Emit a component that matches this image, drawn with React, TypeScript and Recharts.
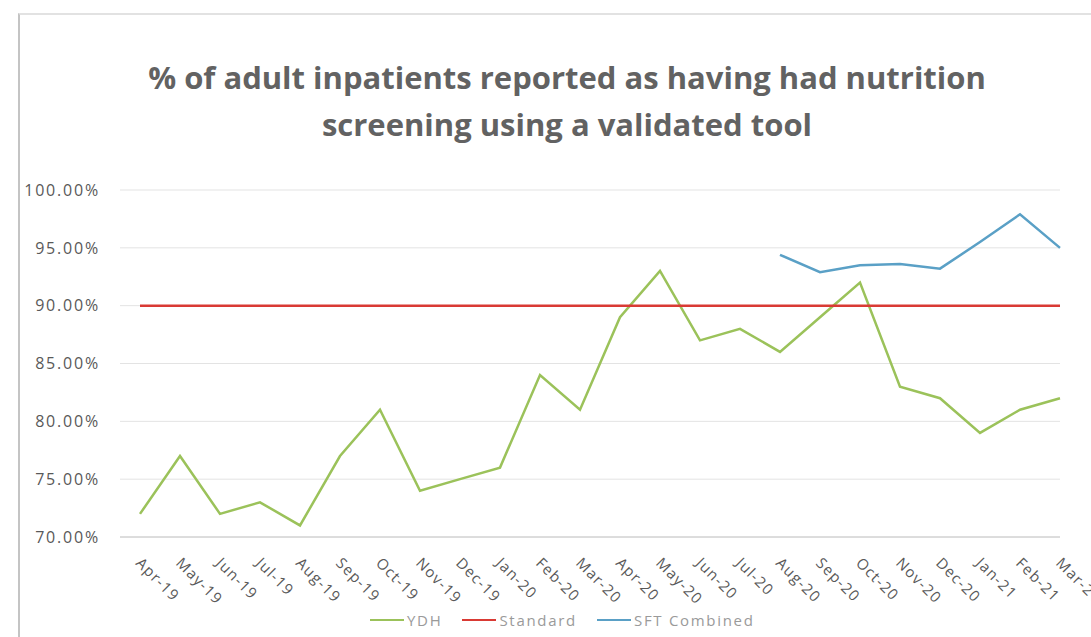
import React from 'react';
import { LineChart, Line, XAxis, YAxis, CartesianGrid } from 'recharts';

const months = ['Apr-19', 'May-19', 'Jun-19', 'Jul-19', 'Aug-19', 'Sep-19', 'Oct-19', 'Nov-19', 'Dec-19', 'Jan-20', 'Feb-20', 'Mar-20', 'Apr-20', 'May-20', 'Jun-20', 'Jul-20', 'Aug-20', 'Sep-20', 'Oct-20', 'Nov-20', 'Dec-20', 'Jan-21', 'Feb-21', 'Mar-21'];
const ydh = [72, 77, 72, 73, 71, 77, 81, 74, 75, 76, 84, 81, 89, 93, 87, 88, 86, 89, 92, 83, 82, 79, 81, 82];
const standard = [90, 90, 90, 90, 90, 90, 90, 90, 90, 90, 90, 90, 90, 90, 90, 90, 90, 90, 90, 90, 90, 90, 90, 90];
const sftCombined: (number | null)[] = [null, null, null, null, null, null, null, null, null, null, null, null, null, null, null, null, 94.4, 92.9, 93.5, 93.6, 93.2, 95.5, 97.9, 95.0];
const yTicks = [70, 75, 80, 85, 90, 95, 100];

const series = [
  { key: 'YDH', color: '#9bc25a' },
  { key: 'Standard', color: '#d93a34' },
  { key: 'SFT Combined', color: '#5aa0c6' },
];

const data = months.map((m, i) => ({ month: m, YDH: ydh[i], Standard: standard[i], 'SFT Combined': sftCombined[i] }));

const FONT = '"Open Sans", sans-serif';
const TXT = '#595959';

const XTick = (props: any) => {
  const { x, y, payload } = props;
  const sx = x - 5;
  const sy = y + 19;
  return (
    <text x={sx} y={sy} transform={`rotate(45 ${sx} ${sy})`} textAnchor="start" fill={TXT} fontSize={15} fontFamily={FONT} letterSpacing={1.2}>
      {payload.value}
    </text>
  );
};

export default function App() {
  return (
    <div style={{ position: 'absolute', left: 0, top: 0, width: 1091, height: 637, background: '#fff', overflow: 'hidden' }}>
      <div style={{ position: 'absolute', left: 18, top: 13, width: 1080, height: 640, borderLeft: '2px solid #c4c4c4', borderTop: '2px solid #e2e2e2' }} />
      <div style={{ position: 'absolute', left: 0, width: 1134, top: 54, textAlign: 'center', fontFamily: FONT, fontWeight: 700, fontSize: 31, color: '#626262', lineHeight: '47px' }}>
        <div>% of adult inpatients reported as having had nutrition</div>
        <div>screening using a validated tool</div>
      </div>
      <div style={{ position: 'absolute', left: 0, top: 0 }}>
        <LineChart width={1091} height={637} data={data} margin={{ top: 190, right: 31, bottom: 0, left: 0 }}>
          <CartesianGrid vertical={false} stroke="#e3e3e3" />
          <XAxis dataKey="month" interval={0} tick={<XTick />} tickLine={false} axisLine={{ stroke: '#c8c8c8' }} padding={{ left: 20, right: 0 }} height={100} />
          <YAxis domain={[70, 100]} ticks={yTicks} width={120} axisLine={false} tickLine={false} tickSize={0} tickMargin={20}
            tickFormatter={(v: number) => v.toFixed(2) + '%'} tick={{ fill: TXT, fontSize: 16, fontFamily: FONT, letterSpacing: 1.8 }} />
          {series.map((s) => (
            <Line key={s.key} type="linear" dataKey={s.key} stroke={s.color} strokeWidth={2.5} dot={false} isAnimationActive={false} />
          ))}
        </LineChart>
      </div>
      <div style={{ position: 'absolute', left: 370, top: 608, display: 'flex', fontFamily: FONT, fontSize: 15, color: '#9a9a9a', letterSpacing: 1.7, lineHeight: '24px' }}>
        {series.map((s) => (
          <div key={s.key} style={{ display: 'flex', alignItems: 'center', marginRight: 20 }}>
            <div style={{ width: 34, height: 2, background: s.color, marginRight: 3 }} />
            <span>{s.key}</span>
          </div>
        ))}
      </div>
    </div>
  );
}
